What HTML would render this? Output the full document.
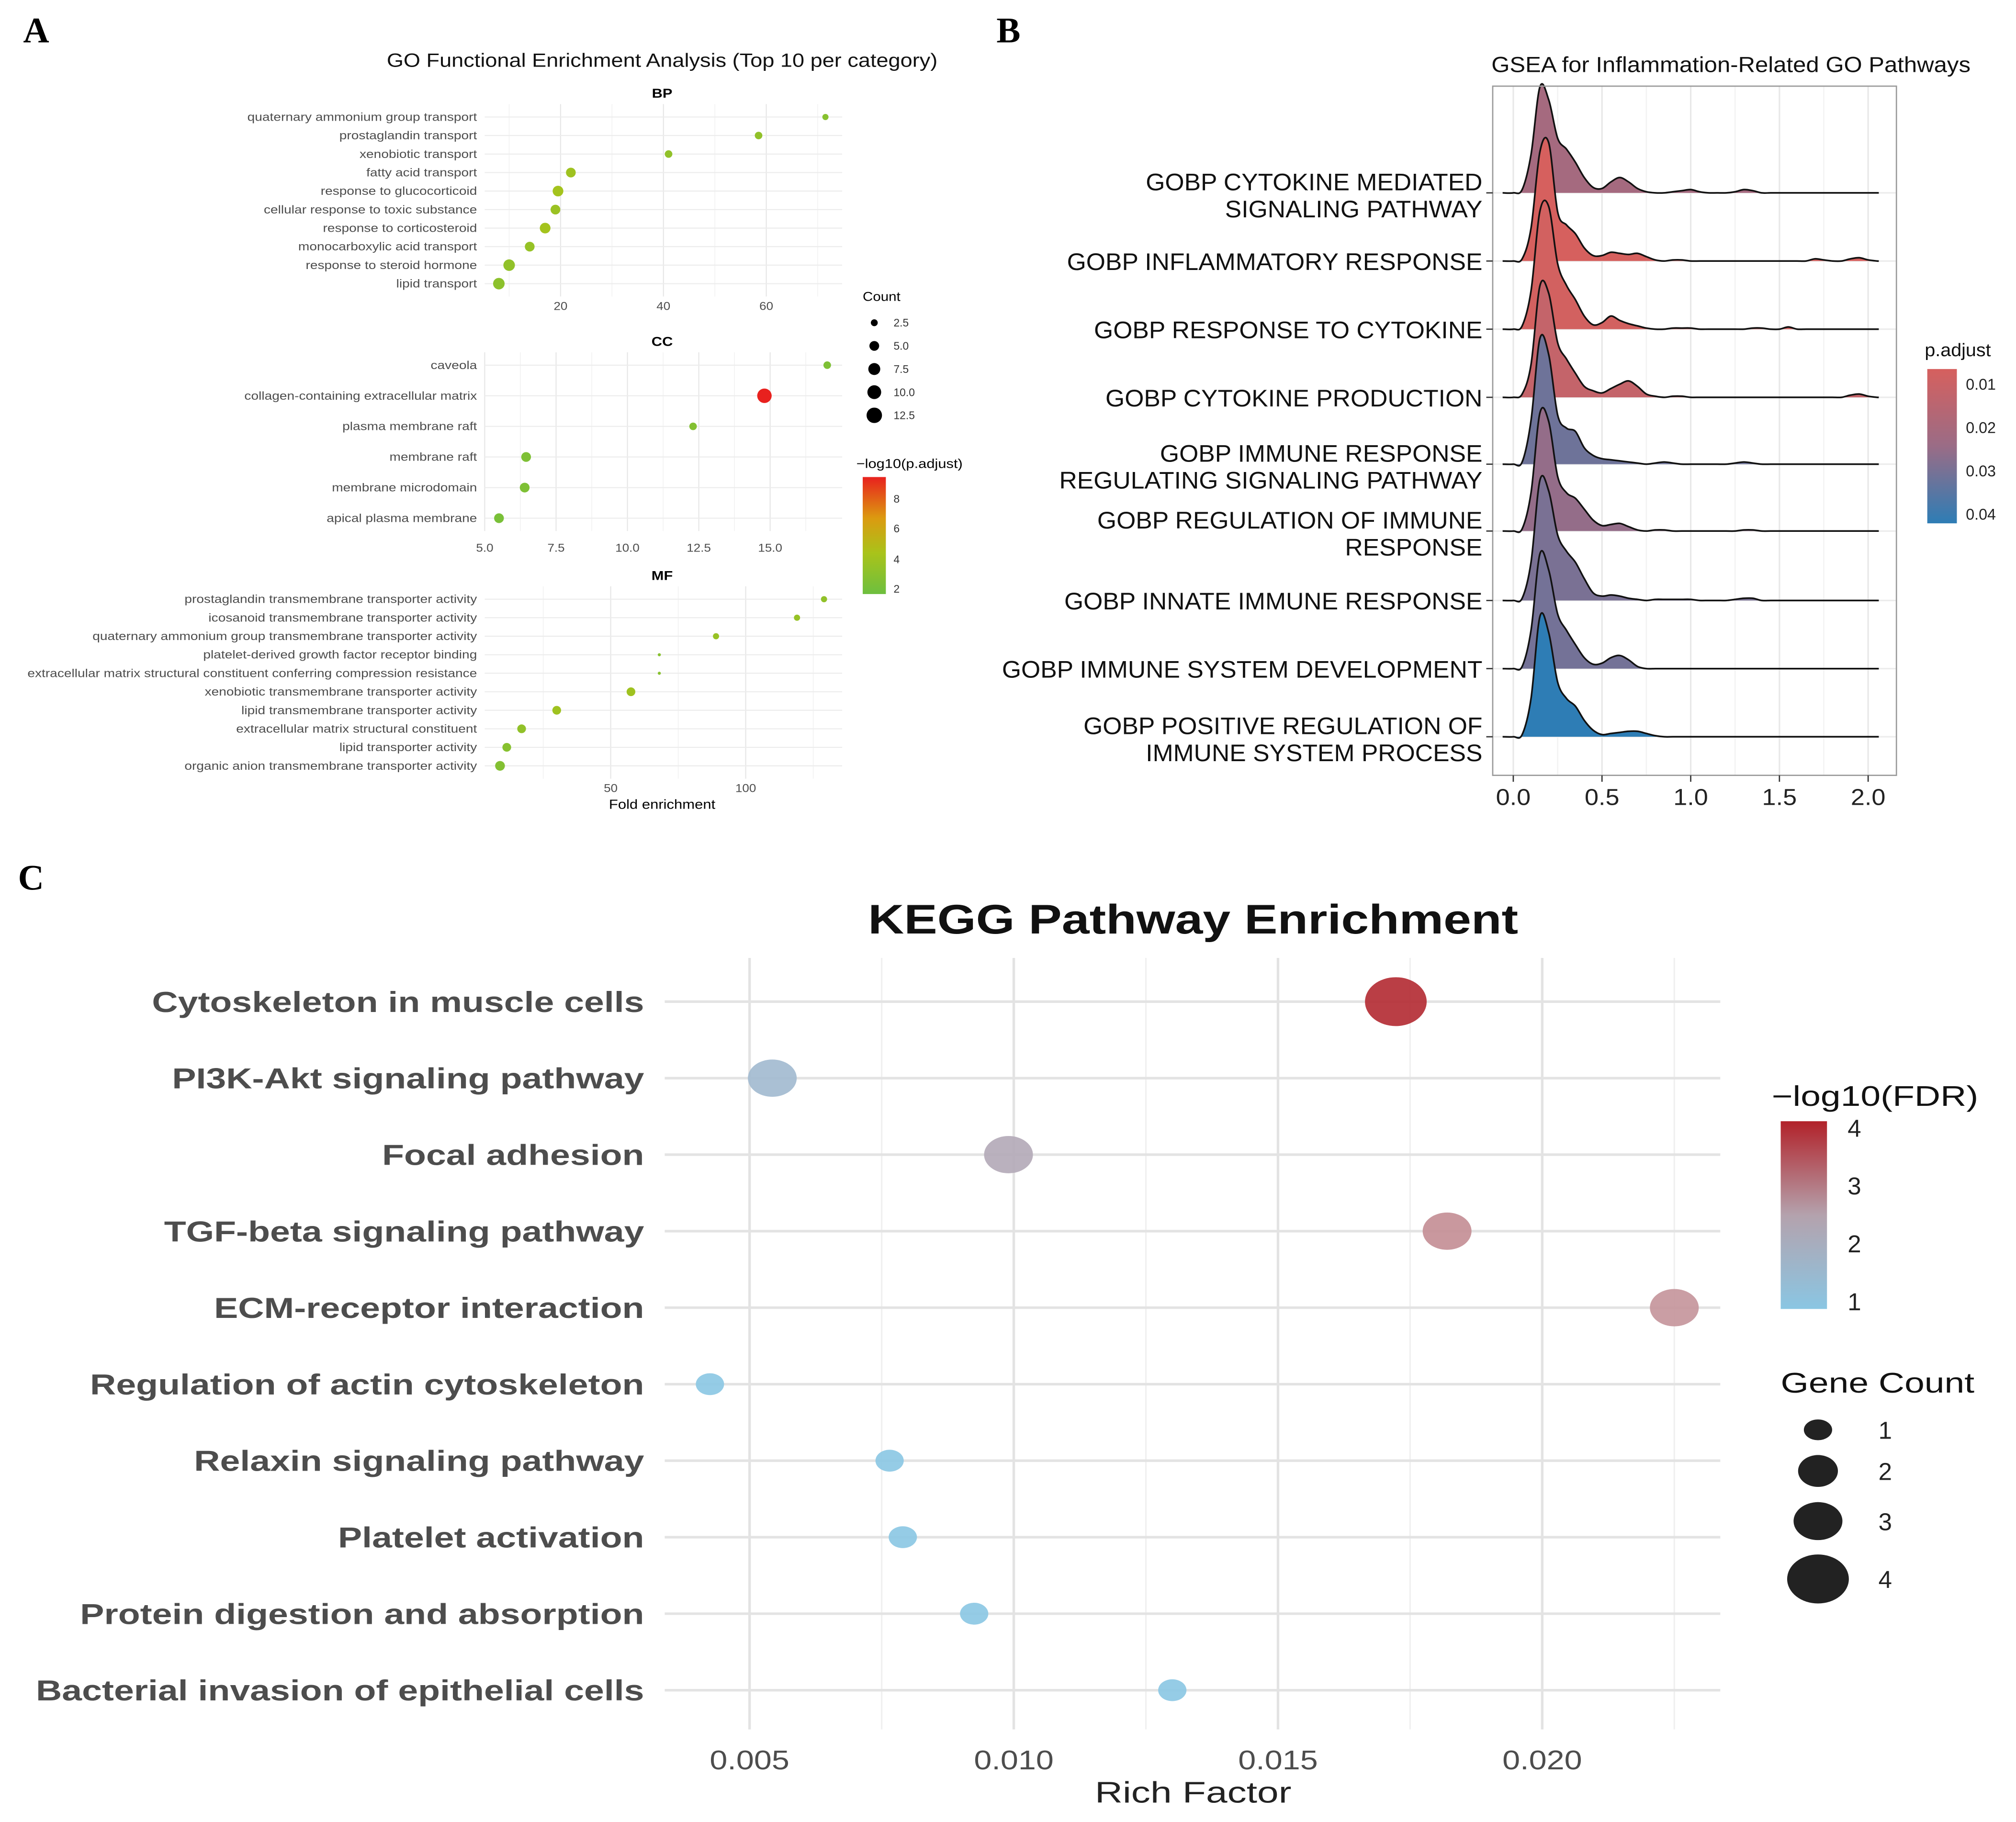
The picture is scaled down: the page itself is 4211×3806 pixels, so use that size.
<!DOCTYPE html>
<html><head><meta charset="utf-8"><style>
html,body{margin:0;padding:0;background:#fff}
svg{display:block}
text{font-family:"Liberation Sans",Arial,sans-serif}
</style></head><body>
<svg id="fig" xmlns="http://www.w3.org/2000/svg" width="4211" height="3806" viewBox="0 0 1568 1417" preserveAspectRatio="none">
<rect x="0" y="0" width="1568" height="1417" fill="#fff"/>
<defs>
<linearGradient id="gA" x1="0" y1="1" x2="0" y2="0">
<stop offset="0" stop-color="#6dbf3f"/><stop offset="0.35" stop-color="#a9c31a"/><stop offset="0.65" stop-color="#dc9a10"/><stop offset="1" stop-color="#e8211e"/></linearGradient>
<linearGradient id="gB" x1="0" y1="0" x2="0" y2="1">
<stop offset="0" stop-color="#d6605e"/><stop offset="0.5" stop-color="#9a6c86"/><stop offset="1" stop-color="#2e7db5"/></linearGradient>
<linearGradient id="gC" x1="0" y1="1" x2="0" y2="0">
<stop offset="0" stop-color="#8ac6e3"/><stop offset="0.5" stop-color="#b4a2ad"/><stop offset="1" stop-color="#b2222a"/></linearGradient>
</defs>
<g id="panelA"></g>
<g id="panelB"></g>
<g id="panelC"></g>
</svg>
<script>
// ---------- Panel A data ----------
const bpTerms=["quaternary ammonium group transport","prostaglandin transport","xenobiotic transport","fatty acid transport","response to glucocorticoid","cellular response to toxic substance","response to corticosteroid","monocarboxylic acid transport","response to steroid hormone","lipid transport"];
const bpFold=[71.5,58.5,41,22,19.5,19,17,14,10,8];
const bpCount=[2,3,3,5,6,5,6,5,7,7];
const bpLogP=[2.6,3.0,3.0,3.6,3.8,3.4,3.8,3.2,3.0,2.8];
const ccTerms=["caveola","collagen-containing extracellular matrix","plasma membrane raft","membrane raft","membrane microdomain","apical plasma membrane"];
const ccFold=[17.0,14.8,12.3,6.45,6.4,5.5];
const ccCount=[3,11,3,5,5,5];
const ccLogP=[2.2,9.0,2.4,2.2,2.2,2.0];
const mfTerms=["prostaglandin transmembrane transporter activity","icosanoid transmembrane transporter activity","quaternary ammonium group transmembrane transporter activity","platelet-derived growth factor receptor binding","extracellular matrix structural constituent conferring compression resistance","xenobiotic transmembrane transporter activity","lipid transmembrane transporter activity","extracellular matrix structural constituent","lipid transporter activity","organic anion transmembrane transporter activity"];
const mfFold=[129,119,89,68,68,57.5,30,17,11.5,9];
const mfCount=[2,2,2,0.5,0.5,4,4,4,4,5];
const mfLogP=[3.0,3.2,3.3,2.6,2.6,3.6,3.6,3.0,2.6,2.4];
const bpTicks=[20,40,60], ccTicks=[5.0,7.5,10.0,12.5,15.0], mfTicks=[50,100];
const countLegend=[2.5,5.0,7.5,10.0,12.5];
// ---------- Panel B data ----------
const gseaTerms=[["GOBP CYTOKINE MEDIATED","SIGNALING PATHWAY"],["GOBP INFLAMMATORY RESPONSE"],["GOBP RESPONSE TO CYTOKINE"],["GOBP CYTOKINE PRODUCTION"],["GOBP IMMUNE RESPONSE","REGULATING SIGNALING PATHWAY"],["GOBP REGULATION OF IMMUNE","RESPONSE"],["GOBP INNATE IMMUNE RESPONSE"],["GOBP IMMUNE SYSTEM DEVELOPMENT"],["GOBP POSITIVE REGULATION OF","IMMUNE SYSTEM PROCESS"]];
const gseaPadj=[0.022,0.008,0.009,0.013,0.032,0.026,0.03,0.031,0.042];
const dens1=[0,0.03,0.35,0.97,0.85,0.5,0.4,0.28,0.14,0.05,0.04,0.1,0.14,0.1,0.04,0.01,0,0,0.01,0.02,0.03,0.01,0,0,0,0.01,0.03,0.02,0];
const dens2=[0,0.02,0.3,1.0,1.08,0.45,0.33,0.25,0.12,0.05,0.05,0.08,0.07,0.06,0.07,0.04,0.01,0,0.01,0.01,0,0,0,0,0,0,0,0,0,0,0,0,0,0,0.02,0.01,0,0,0.02,0.03,0.01,0];
const dens3=[0,0.03,0.35,1.08,1.12,0.6,0.4,0.27,0.12,0.04,0.06,0.12,0.08,0.05,0.03,0.01,0,0,0.01,0.01,0.01,0,0,0,0,0,0,0.01,0.01,0,0,0.02,0];
const dens4=[0,0.03,0.3,1.02,0.95,0.5,0.35,0.22,0.1,0.06,0.04,0.08,0.12,0.15,0.1,0.03,0.01,0,0.01,0.01,0,0,0,0,0,0,0,0,0,0,0,0,0,0,0,0,0,0,0.02,0.03,0.01,0];
const dens5=[0,0.02,0.4,1.15,1.0,0.45,0.33,0.3,0.15,0.08,0.05,0.04,0.03,0.02,0.01,0,0.01,0.02,0.01,0,0,0,0,0,0,0.01,0.02,0.01,0];
const dens6=[0,0.02,0.35,1.08,1.0,0.5,0.35,0.3,0.2,0.1,0.05,0.06,0.07,0.04,0.01,0,0.01,0.01,0,0,0,0,0,0,0,0,0.01,0.01,0];
const dens7=[0,0.02,0.35,1.1,1.0,0.6,0.45,0.35,0.2,0.07,0.04,0.05,0.04,0.02,0.01,0,0.01,0.01,0.01,0.01,0.01,0,0,0,0,0.01,0.02,0.02,0];
const dens8=[0,0.02,0.35,1.05,0.9,0.5,0.35,0.22,0.1,0.04,0.05,0.1,0.12,0.08,0.02,0];
const dens9=[0,0.02,0.35,1.1,0.95,0.5,0.35,0.28,0.15,0.06,0.02,0.03,0.04,0.05,0.05,0.03,0.01,0];
const gseaTicks=[0.0,0.5,1.0,1.5,2.0];
const padjLegend=[0.01,0.02,0.03,0.04];
// ---------- Panel C data ----------
const keggTerms=["Cytoskeleton in muscle cells","PI3K-Akt signaling pathway","Focal adhesion","TGF-beta signaling pathway","ECM-receptor interaction","Regulation of actin cytoskeleton","Relaxin signaling pathway","Platelet activation","Protein digestion and absorption","Bacterial invasion of epithelial cells"];
const keggRich=[0.01723,0.00543,0.0099,0.0182,0.0225,0.00425,0.00765,0.0079,0.00925,0.013];
const keggCount=[4,3,3,3,3,1,1,1,1,1];
const keggFDR=[4.1,1.6,2.1,2.7,2.6,1.0,1.0,1.0,1.0,1.0];
const keggTicks=[0.005,0.010,0.015,0.020];
const fdrLegend=[1,2,3,4];
const geneLegend=[1,2,3,4];

const NS="http://www.w3.org/2000/svg";
function mk(parent,tag,attrs,txt){const e=document.createElementNS(NS,tag);for(const k in attrs)e.setAttribute(k,attrs[k]);if(txt!==undefined)e.textContent=txt;parent.appendChild(e);return e;}
const stretchList=[];
function sx(el,f){stretchList.push([el,f]);return el;}
function lerpC(a,b,t){const pa=[1,3,5].map(i=>parseInt(a.substr(i,2),16)),pb=[1,3,5].map(i=>parseInt(b.substr(i,2),16));return "rgb("+pa.map((v,i)=>Math.round(v+(pb[i]-v)*t)).join(",")+")";}
function scaleColor(stops,v){if(v<=stops[0][0])return stops[0][1];for(let i=1;i<stops.length;i++){if(v<=stops[i][0]){const t=(v-stops[i-1][0])/(stops[i][0]-stops[i-1][0]);return lerpC(stops[i-1][1],stops[i][1],t);}}return stops[stops.length-1][1];}
const aStops=[[1.5,"#6dbf3f"],[4,"#a9c31a"],[6,"#dc9a10"],[9,"#e8211e"]];
const serifStyle='font-family:"Liberation Serif",serif';

// ===== Panel A =====
const A=document.getElementById('panelA');
let t=mk(A,'text',{x:18,y:33,'font-size':28,'font-weight':'bold',style:serifStyle},'A');

t=mk(A,'text',{x:515,y:52,'font-size':15,'text-anchor':'middle',fill:'#111'},'GO Functional Enrichment Analysis (Top 10 per category)');
sx(t,1.12);
const PX0=377,PX1=655;
function facet(name,label,terms,vals,counts,logp,y0,step,xf,ticks,tickY,minor,fmt){
  const g=mk(A,'g',{});
  
  const yTop=y0-10,yBot=y0+step*(terms.length-1)+10;
  minor.forEach(m=>{const gl=mk(g,'line',{x1:xf(m),x2:xf(m),y1:yTop,y2:yBot,stroke:'#f2f2f2','stroke-width':0.6});});
  ticks.forEach(m=>{const gl=mk(g,'line',{x1:xf(m),x2:xf(m),y1:yTop,y2:yBot,stroke:'#e6e6e6','stroke-width':0.8});});
  const st=mk(g,'text',{x:515,y:y0-15,'font-size':10,'font-weight':'bold','text-anchor':'middle'},label);
  sx(st,1.15);
  terms.forEach((tm,i)=>{const y=y0+i*step;
    const hl=mk(g,'line',{x1:PX0,x2:PX1,y1:y,y2:y,stroke:'#ececec','stroke-width':0.8});
    const lt=mk(g,'text',{x:371,y:y+3,'font-size':8.8,'text-anchor':'end',fill:'#4d4d4d'},tm);sx(lt,1.19);
  });
  terms.forEach((tm,i)=>{const y=y0+i*step;
    const c=mk(g,'circle',{cx:xf(vals[i]),cy:y,r:6*Math.sqrt(counts[i]/12.5),fill:scaleColor(aStops,logp[i])});
    
  });
  ticks.forEach(m=>{const tt=mk(g,'text',{x:xf(m),y:tickY,'font-size':8.8,'text-anchor':'middle',fill:'#4d4d4d'},fmt(m));sx(tt,1.1);});
}
const xBP=v=>356+v*4.0;
facet('bp','BP',bpTerms,bpFold,bpCount,bpLogP,91,14.4,xBP,bpTicks,241,[10,30,50,70],v=>String(v));
const xCC=v=>377+(v-5)*22.2;
facet('cc','CC',ccTerms,ccFold,ccCount,ccLogP,284,23.8,xCC,ccTicks,429,[6.25,8.75,11.25,13.75,16.25],v=>v.toFixed(1));
const xMF=v=>370+v*2.1;
facet('mf','MF',mfTerms,mfFold,mfCount,mfLogP,466,14.4,xMF,mfTicks,616,[25,75,125],v=>String(v));
t=mk(A,'text',{x:515,y:629,'font-size':10.5,'text-anchor':'middle'},'Fold enrichment');
sx(t,1.1);
t=mk(A,'text',{x:671,y:234,'font-size':10},'Count');sx(t,1.1);
countLegend.forEach((c,i)=>{const y=251+i*18;
  const cc=mk(A,'circle',{cx:680,cy:y,r:6*Math.sqrt(c/12.5),fill:'#000'});
  const tl=mk(A,'text',{x:695,y:y+3,'font-size':8.5,fill:'#333'},c.toFixed(1));
});
t=mk(A,'text',{x:666,y:364,'font-size':10},'\u2212log10(p.adjust)');sx(t,1.15);
t=mk(A,'rect',{x:671,y:371,width:18,height:91,fill:'url(#gA)'});
[[8,388],[6,411],[4,435],[2,458]].forEach(p=>{const tl=mk(A,'text',{x:695,y:p[1]+3,'font-size':8.5,fill:'#333'},String(p[0]));});

// ===== Panel B =====
const B=document.getElementById('panelB');
t=mk(B,'text',{x:775,y:33,'font-size':28,'font-weight':'bold',style:serifStyle},'B');
t=mk(B,'text',{x:1160,y:56,'font-size':17,fill:'#111'},'GSEA for Inflammation-Related GO Pathways');sx(t,1.075);
const bx=v=>1177+v*138, bBase=[150,203,256,309,361,413,467,520,573], hScale=85;
const densAll=[dens1,dens2,dens3,dens4,dens5,dens6,dens7,dens8,dens9];
[0.25,0.75,1.25,1.75].forEach(v=>{const l=mk(B,'line',{x1:bx(v),x2:bx(v),y1:67,y2:603,stroke:'#f3f3f3','stroke-width':1});});
gseaTicks.forEach(v=>{const l=mk(B,'line',{x1:bx(v),x2:bx(v),y1:67,y2:603,stroke:'#e8e8e8','stroke-width':1.2});});
bBase.forEach(y=>{const l=mk(B,'line',{x1:1161,x2:1475,y1:y,y2:y,stroke:'#ececec','stroke-width':1.2});});
function smoothPath(pts){let d='M'+pts[0][0].toFixed(2)+','+pts[0][1].toFixed(2);for(let i=0;i<pts.length-1;i++){const p0=pts[Math.max(0,i-1)],p1=pts[i],p2=pts[i+1],p3=pts[Math.min(pts.length-1,i+2)];const c1=[p1[0]+(p2[0]-p0[0])/6,p1[1]+(p2[1]-p0[1])/6],c2=[p2[0]-(p3[0]-p1[0])/6,p2[1]-(p3[1]-p1[1])/6];d+=' C'+c1[0].toFixed(2)+','+c1[1].toFixed(2)+' '+c2[0].toFixed(2)+','+c2[1].toFixed(2)+' '+p2[0].toFixed(2)+','+p2[1].toFixed(2);}return d;}
const bStops=[[0.008,"#d6605e"],[0.025,"#9a6c86"],[0.042,"#2e7db5"]];
densAll.forEach((dens,k)=>{
  const base=bBase[k];const pts=[[bx(-0.06),base]];
  for(let i=0;i<=41;i++){const v=i<dens.length?dens[i]:0;pts.push([bx(i*0.05),base-v*hScale]);}
  pts.push([bx(2.06),base]);
  const d=smoothPath(pts);
  const f=mk(B,'path',{d:d+' Z',fill:scaleColor(bStops,gseaPadj[k]),stroke:'none'});
  const s=mk(B,'path',{d:d,fill:'none',stroke:'#111','stroke-width':1.3});
});
t=mk(B,'rect',{x:1161,y:67,width:314,height:536,fill:'none',stroke:'#9a9a9a','stroke-width':1});
gseaTerms.forEach((lines,k)=>{const y=bBase[k];
  const tk=mk(B,'line',{x1:1156,x2:1161,y1:y,y2:y,stroke:'#333','stroke-width':1});
  lines.forEach((ln,j)=>{const yy=lines.length===1?y+7:y-2+(j*21);
    const tl=mk(B,'text',{x:1153,y:yy,'font-size':18.5,'text-anchor':'end',fill:'#111'},ln);sx(tl,1.04);});
});
gseaTicks.forEach(v=>{const tk=mk(B,'line',{x1:bx(v),x2:bx(v),y1:603,y2:608,stroke:'#333','stroke-width':1});
  const tl=mk(B,'text',{x:bx(v),y:626,'font-size':18,'text-anchor':'middle',fill:'#222'},v.toFixed(1));sx(tl,1.08);});
t=mk(B,'text',{x:1497,y:277,'font-size':14,fill:'#111'},'p.adjust');sx(t,1.05);
t=mk(B,'rect',{x:1499,y:287,width:23,height:120,fill:'url(#gB)'});
padjLegend.forEach((v,i)=>{const y=299+i*33.7;const tl=mk(B,'text',{x:1529,y:y+4,'font-size':12,fill:'#222'},v.toFixed(2));});

// ===== Panel C =====
const C=document.getElementById('panelC');
t=mk(C,'text',{x:14,y:692,'font-size':28,'font-weight':'bold',style:serifStyle},'C');
t=mk(C,'text',{x:928,y:726,'font-size':32,'font-weight':'bold','text-anchor':'middle',fill:'#111'},'KEGG Pathway Enrichment');sx(t,1.21);
const cx=v=>583+(v-0.005)*41100, rowY=i=>779+i*59.5;
[0.0075,0.0125,0.0175,0.0225].forEach(v=>{const l=mk(C,'line',{x1:cx(v),x2:cx(v),y1:745,y2:1345,stroke:'#f0f0f0','stroke-width':1.2});});
keggTicks.forEach(v=>{const l=mk(C,'line',{x1:cx(v),x2:cx(v),y1:745,y2:1345,stroke:'#e3e3e3','stroke-width':2});});
keggTerms.forEach((tm,i)=>{const y=rowY(i);
  const l=mk(C,'line',{x1:517,x2:1338,y1:y,y2:y,stroke:'#e3e3e3','stroke-width':2});
  const tl=mk(C,'text',{x:501,y:y+8,'font-size':22.5,'font-weight':'bold','text-anchor':'end',fill:'#4d4d4d'},tm);sx(tl,1.245);
});
const cStops=[[1,"#8ac6e3"],[1.8,"#a9b4c8"],[2.6,"#c4949a"],[4.2,"#b2222a"]];
const rxOf=c=>[0,11,15.5,19,24][c], ryOf=c=>[0,8.5,12,14.5,19][c];
keggTerms.forEach((tm,i)=>{
  const e=mk(C,'ellipse',{cx:cx(keggRich[i]),cy:rowY(i),rx:rxOf(keggCount[i]),ry:ryOf(keggCount[i]),fill:scaleColor(cStops,keggFDR[i]),'fill-opacity':0.9});
  
});
keggTicks.forEach(v=>{const tl=mk(C,'text',{x:cx(v),y:1376,'font-size':21,'text-anchor':'middle',fill:'#4d4d4d'},v.toFixed(3));sx(tl,1.18);});
t=mk(C,'text',{x:928,y:1402,'font-size':23,'text-anchor':'middle',fill:'#222'},'Rich Factor');sx(t,1.3);
t=mk(C,'text',{x:1378,y:860,'font-size':22,fill:'#111'},'\u2212log10(FDR)');sx(t,1.27);
t=mk(C,'rect',{x:1385,y:872,width:36,height:146,fill:'url(#gC)'});
fdrLegend.forEach(v=>{const y=877+(4-v)*45;const tl=mk(C,'text',{x:1437,y:y+7,'font-size':19,fill:'#222'},String(v));});
t=mk(C,'text',{x:1385,y:1083,'font-size':22,fill:'#111'},'Gene Count');sx(t,1.27);
const gy=[1112,1144,1183,1228];
geneLegend.forEach((c,i)=>{const e=mk(C,'ellipse',{cx:1414,cy:gy[i],rx:rxOf(c),ry:ryOf(c)*0.95+(c>1?1:0),fill:'#222'});
  const tl=mk(C,'text',{x:1461,y:gy[i]+7,'font-size':19,fill:'#222'},String(c));});

// horizontal stretch to match reference glyph widths
stretchList.forEach(([el,f])=>{const w=el.getComputedTextLength();if(w>0){el.setAttribute('textLength',(w*f).toFixed(2));el.setAttribute('lengthAdjust','spacingAndGlyphs');}});
</script>
</body></html>
